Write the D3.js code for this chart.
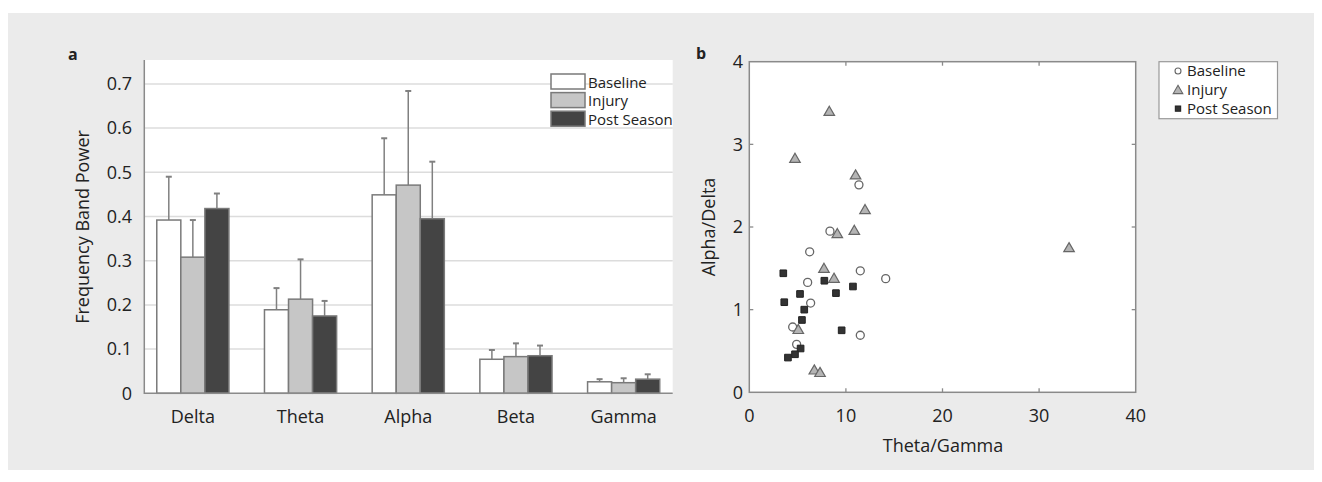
<!DOCTYPE html>
<meta charset="utf-8">
<style>
    body { margin: 0; background: #fff; }
    svg text { font-family: "Open Sans", sans-serif; fill: #222; }
</style>
<svg id="chart" width="1322" height="482"></svg>
<script src="https://cdn.jsdelivr.net/npm/d3@7"></script>
<script>
    // panel a data
    const categories = ["Delta", "Theta", "Alpha", "Beta", "Gamma"];
    const groups = ["Baseline", "Injury", "Post Season"];
    const baselineMean = [0.392, 0.189, 0.449, 0.077, 0.026];
    const baselineSD = [0.098, 0.049, 0.128, 0.021, 0.006];
    const injuryMean = [0.308, 0.213, 0.471, 0.083, 0.024];
    const injurySD = [0.084, 0.090, 0.213, 0.030, 0.010];
    const postMean = [0.418, 0.175, 0.395, 0.085, 0.032];
    const postSD = [0.034, 0.034, 0.129, 0.023, 0.011];
    const barTicks = [0, 0.1, 0.2, 0.3, 0.4, 0.5, 0.6, 0.7];

    // panel b data
    const baselineTG = [11.35, 8.35, 6.25, 11.49, 14.12, 6.04, 6.35, 4.49, 4.90, 11.49];
    const baselineAD = [2.51, 1.95, 1.70, 1.47, 1.375, 1.33, 1.08, 0.79, 0.58, 0.69];
    const injuryTG = [8.28, 4.73, 11.0, 11.98, 10.87, 9.11, 33.1, 7.73, 8.77, 5.07, 6.73, 7.32];
    const injuryAD = [3.40, 2.83, 2.63, 2.21, 1.96, 1.92, 1.75, 1.50, 1.38, 0.76, 0.27, 0.24];
    const postTG = [3.52, 3.62, 5.25, 7.77, 8.97, 10.73, 5.69, 5.45, 9.56, 5.31, 4.73, 4.00];
    const postAD = [1.44, 1.09, 1.19, 1.35, 1.20, 1.28, 1.00, 0.875, 0.75, 0.53, 0.46, 0.42];
    const xTicksB = [0, 10, 20, 30, 40];
    const yTicksB = [0, 1, 2, 3, 4];

    const fills = ["#ffffff", "#c6c6c6", "#444444"];

    const svg = d3.select("#chart");

    // grey panel background
    svg.append("rect").attr("x", 8).attr("y", 13).attr("width", 1306).attr("height", 457).attr("fill", "#ebebeb");

    // ---------- panel a ----------
    const ya = d3.scaleLinear().domain([0, 0.75]).range([393.3, 61.8]);
    const xa = d3.scaleBand().domain(categories).range([139, 677.5]).paddingInner(0.33).paddingOuter(0.165);
    const xg = d3.scaleBand().domain(groups).range([0, xa.bandwidth()]);

    const pa = svg.append("g");
    pa.append("rect").attr("x", 144.3).attr("y", 60).attr("width", 672.7 - 144.3).attr("height", 393.3 - 60).attr("fill", "#fff");

    pa.selectAll(".grid").data(barTicks.slice(1)).join("line")
        .attr("x1", 144.3).attr("x2", 672.7)
        .attr("y1", d => ya(d)).attr("y2", d => ya(d))
        .attr("stroke", "#dcdcdc").attr("stroke-width", 1.5);

    pa.selectAll(".ytick").data(barTicks).join("text")
        .attr("x", 132).attr("y", d => ya(d)).attr("dy", "0.35em")
        .attr("text-anchor", "end").attr("font-size", 18)
        .text(d => d === 0 ? "0" : d3.format(".1f")(d));

    const barData = [];
    categories.forEach((c, i) => {
        barData.push({cat: c, grp: groups[0], k: 0, m: baselineMean[i], sd: baselineSD[i]});
        barData.push({cat: c, grp: groups[1], k: 1, m: injuryMean[i], sd: injurySD[i]});
        barData.push({cat: c, grp: groups[2], k: 2, m: postMean[i], sd: postSD[i]});
    });

    // error bars
    const eb = pa.selectAll(".err").data(barData).join("g")
        .attr("transform", d => `translate(${xa(d.cat) + xg(d.grp) + xg.bandwidth() / 2},0)`);
    eb.append("line").attr("x1", 0).attr("x2", 0)
        .attr("y1", d => ya(d.m)).attr("y2", d => ya(d.m + d.sd))
        .attr("stroke", "#808080").attr("stroke-width", 1.5);
    eb.append("line").attr("x1", -3).attr("x2", 3)
        .attr("y1", d => ya(d.m + d.sd)).attr("y2", d => ya(d.m + d.sd))
        .attr("stroke", "#808080").attr("stroke-width", 2);

    pa.selectAll(".bar").data(barData).join("rect")
        .attr("x", d => xa(d.cat) + xg(d.grp))
        .attr("y", d => ya(d.m))
        .attr("width", xg.bandwidth())
        .attr("height", d => ya(0) - ya(d.m))
        .attr("fill", d => fills[d.k])
        .attr("stroke", "#7a7a7a").attr("stroke-width", 1.5);

    // axes lines
    pa.append("line").attr("x1", 144.3).attr("x2", 144.3).attr("y1", 60).attr("y2", 394).attr("stroke", "#8a8a8a").attr("stroke-width", 1.5);
    pa.append("line").attr("x1", 144.3).attr("x2", 672.7).attr("y1", 393.3).attr("y2", 393.3).attr("stroke", "#8a8a8a").attr("stroke-width", 1.5);

    pa.selectAll(".xlab").data(categories).join("text")
        .attr("x", d => xa(d) + xa.bandwidth() / 2).attr("y", 422.5)
        .attr("text-anchor", "middle").attr("font-size", 18)
        .text(d => d);

    pa.append("text").attr("transform", "translate(89,227) rotate(-90)")
        .attr("text-anchor", "middle").attr("font-size", 18)
        .text("Frequency Band Power");

    pa.append("text").attr("x", 68).attr("y", 60).attr("font-size", 16).attr("font-weight", "bold").text("a");

    // legend a
    const la = pa.selectAll(".lega").data(groups).join("g")
        .attr("transform", (d, i) => `translate(551,${74 + i * 18.6})`);
    la.append("rect").attr("width", 34).attr("height", 15)
        .attr("fill", (d, i) => fills[i]).attr("stroke", "#7a7a7a").attr("stroke-width", 1.5);
    la.append("text").attr("x", 37).attr("y", 13.5).attr("font-size", 15).text(d => d);

    // ---------- panel b ----------
    const xb = d3.scaleLinear().domain([0, 40]).range([749.3, 1135.7]);
    const yb = d3.scaleLinear().domain([0, 4]).range([392.3, 61.7]);
    const pb = svg.append("g");

    pb.append("rect").attr("x", xb(0)).attr("y", yb(4)).attr("width", xb(40) - xb(0)).attr("height", yb(0) - yb(4))
        .attr("fill", "#fff").attr("stroke", "#8a8a8a").attr("stroke-width", 1.5);

    xTicksB.slice(1, -1).forEach(t => {
        pb.append("line").attr("x1", xb(t)).attr("x2", xb(t)).attr("y1", yb(0)).attr("y2", yb(0) - 4).attr("stroke", "#8a8a8a").attr("stroke-width", 1.3);
        pb.append("line").attr("x1", xb(t)).attr("x2", xb(t)).attr("y1", yb(4)).attr("y2", yb(4) + 4).attr("stroke", "#8a8a8a").attr("stroke-width", 1.3);
    });
    yTicksB.slice(1, -1).forEach(t => {
        pb.append("line").attr("x1", xb(0)).attr("x2", xb(0) + 4).attr("y1", yb(t)).attr("y2", yb(t)).attr("stroke", "#8a8a8a").attr("stroke-width", 1.3);
        pb.append("line").attr("x1", xb(40)).attr("x2", xb(40) - 4).attr("y1", yb(t)).attr("y2", yb(t)).attr("stroke", "#8a8a8a").attr("stroke-width", 1.3);
    });

    pb.selectAll(".xtb").data(xTicksB).join("text")
        .attr("x", d => xb(d)).attr("y", 421.5).attr("text-anchor", "middle").attr("font-size", 18).text(d => d);
    pb.selectAll(".ytb").data(yTicksB).join("text")
        .attr("x", 743).attr("y", d => yb(d)).attr("dy", "0.35em").attr("text-anchor", "end").attr("font-size", 18).text(d => d);

    pb.append("text").attr("x", 943).attr("y", 451.5).attr("text-anchor", "middle").attr("font-size", 18).text("Theta/Gamma");
    pb.append("text").attr("transform", "translate(715,227) rotate(-90)").attr("text-anchor", "middle").attr("font-size", 18).text("Alpha/Delta");
    pb.append("text").attr("x", 696).attr("y", 59).attr("font-size", 16).attr("font-weight", "bold").text("b");

    const tri = d3.symbol().type(d3.symbolTriangle).size(48);
    const sq = d3.symbol().type(d3.symbolSquare).size(44);

    pb.selectAll(".pt0").data(d3.zip(baselineTG, baselineAD)).join("circle")
        .attr("cx", d => xb(d[0])).attr("cy", d => yb(d[1])).attr("r", 4)
        .attr("fill", "#fff").attr("stroke", "#666").attr("stroke-width", 1.3);
    pb.selectAll(".pt1").data(d3.zip(injuryTG, injuryAD)).join("path")
        .attr("d", tri).attr("transform", d => `translate(${xb(d[0])},${yb(d[1]) + 1})`)
        .attr("fill", "#b4b4b4").attr("stroke", "#666").attr("stroke-width", 1.2);
    pb.selectAll(".pt2").data(d3.zip(postTG, postAD)).join("path")
        .attr("d", sq).attr("transform", d => `translate(${xb(d[0])},${yb(d[1])})`)
        .attr("fill", "#333").attr("stroke", "#222").attr("stroke-width", 1);

    // legend b
    pb.append("rect").attr("x", 1159).attr("y", 61.7).attr("width", 118.5).attr("height", 57)
        .attr("fill", "#fff").attr("stroke", "#999").attr("stroke-width", 1.2);
    const lb = pb.selectAll(".legb").data(groups).join("g")
        .attr("transform", (d, i) => `translate(1178,${71 + i * 18.8})`);
    lb.append("path")
        .attr("d", (d, i) => i === 0 ? d3.symbol().type(d3.symbolCircle).size(28)() : i === 1 ? d3.symbol().type(d3.symbolTriangle).size(40)() : d3.symbol().type(d3.symbolSquare).size(28)())
        .attr("transform", (d, i) => i === 1 ? "translate(0,1)" : null)
        .attr("fill", (d, i) => i === 0 ? "#fff" : i === 1 ? "#b4b4b4" : "#333")
        .attr("stroke", (d, i) => i === 2 ? "#222" : "#666").attr("stroke-width", 1.1);
    lb.append("text").attr("x", 9).attr("dy", "0.35em").attr("font-size", 15).text(d => d);
</script>
